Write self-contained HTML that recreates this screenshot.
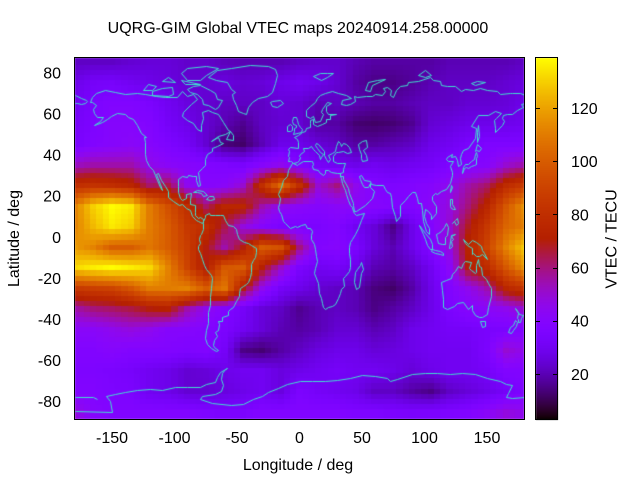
<!DOCTYPE html>
<html><head><meta charset="utf-8">
<style>
html,body{margin:0;padding:0;background:#fff;}
#wrap{position:relative;width:640px;height:480px;overflow:hidden;background:#fff;}
canvas{position:absolute;left:0;top:0;}
svg{position:absolute;left:0;top:0;}
text{font-family:"Liberation Sans",Arial,sans-serif;font-size:16px;fill:#000;}
</style></head>
<body><div id="wrap">
<canvas id="c" width="640" height="480"></canvas>
<svg width="640" height="480" xmlns="http://www.w3.org/2000/svg">
<text x="298" y="33" text-anchor="middle">UQRG-GIM Global VTEC maps 20240914.258.00000</text>
<rect x="74.5" y="57.5" width="450" height="362" fill="none" stroke="#000" stroke-width="1"/>
<rect x="535.5" y="57.5" width="22" height="362" fill="none" stroke="#000" stroke-width="1"/>
<g text-anchor="end">
<text x="61" y="78.3">80</text>
<text x="61" y="119.4">60</text>
<text x="61" y="160.6">40</text>
<text x="61" y="201.7">20</text>
<text x="61" y="242.8">0</text>
<text x="61" y="283.9">-20</text>
<text x="61" y="325">-40</text>
<text x="61" y="366.1">-60</text>
<text x="61" y="407.2">-80</text>
</g>
<g text-anchor="middle">
<text x="112" y="443">-150</text>
<text x="174.5" y="443">-100</text>
<text x="237" y="443">-50</text>
<text x="299.5" y="443">0</text>
<text x="362" y="443">50</text>
<text x="424.5" y="443">100</text>
<text x="487" y="443">150</text>
</g>
<text x="298" y="470" text-anchor="middle">Longitude / deg</text>
<text transform="translate(19,238.5) rotate(-90)" text-anchor="middle">Latitude / deg</text>
<text transform="translate(616.5,239) rotate(-90)" text-anchor="middle">VTEC / TECU</text>
<g>
<text x="571" y="379.8">20</text>
<text x="571" y="326.6">40</text>
<text x="571" y="273.5">60</text>
<text x="571" y="220.3">80</text>
<text x="571" y="167.2">100</text>
<text x="571" y="114">120</text>
</g>
<g stroke="#000" stroke-width="1">
<line x1="535.5" y1="374.5" x2="540" y2="374.5"/><line x1="553" y1="374.5" x2="557.5" y2="374.5"/>
<line x1="535.5" y1="321.5" x2="540" y2="321.5"/><line x1="553" y1="321.5" x2="557.5" y2="321.5"/>
<line x1="535.5" y1="268.5" x2="540" y2="268.5"/><line x1="553" y1="268.5" x2="557.5" y2="268.5"/>
<line x1="535.5" y1="214.5" x2="540" y2="214.5"/><line x1="553" y1="214.5" x2="557.5" y2="214.5"/>
<line x1="535.5" y1="161.5" x2="540" y2="161.5"/><line x1="553" y1="161.5" x2="557.5" y2="161.5"/>
<line x1="535.5" y1="108.5" x2="540" y2="108.5"/><line x1="553" y1="108.5" x2="557.5" y2="108.5"/>
</g>
</svg>
</div>
<script>
(function(){
var G=[
[22,22,22,24,25,25,23,23,21,20,20,20,22,23,23,20,18,18,18,18,20,20,20,20,22],
[28,32,33,30,28,26,24,24,26,24,25,28,30,28,24,18,15,15,17,20,22,22,22,24,26],
[30,35,38,38,35,30,26,24,22,22,22,25,24,20,22,20,18,18,20,22,22,24,24,25,28],
[32,36,40,40,38,32,28,24,20,16,22,24,24,18,18,13,12,13,16,24,26,28,28,28,30],
[34,38,40,42,40,36,32,24,14,12,20,28,28,25,22,18,18,20,22,28,30,34,36,36,36],
[52,55,55,55,46,42,40,38,36,34,40,45,38,32,30,28,30,28,30,32,36,38,40,50,55],
[80,82,80,75,62,65,45,40,42,50,80,105,80,50,60,45,38,36,38,40,45,55,62,78,86],
[112,130,139,135,110,95,80,62,75,75,55,45,42,40,42,42,40,38,38,42,48,60,75,98,115],
[112,125,135,130,110,100,85,80,65,48,40,35,35,35,38,30,25,15,28,38,50,68,85,103,110],
[118,112,100,100,108,100,88,70,55,70,100,95,60,38,40,35,25,20,28,38,48,74,90,112,128],
[132,136,139,136,132,112,90,70,98,100,72,52,35,30,32,28,20,18,22,30,42,70,78,98,115],
[85,88,90,98,110,110,112,100,108,70,45,32,28,24,22,20,14,12,18,28,38,45,55,75,82],
[55,60,62,65,70,72,55,45,38,32,25,22,16,20,22,20,15,18,22,28,35,40,42,45,50],
[42,42,45,48,45,40,40,38,35,30,25,20,18,20,24,24,20,22,28,30,32,32,34,35,38],
[38,38,40,38,38,38,36,38,32,15,13,18,22,26,28,28,25,26,28,30,30,30,35,50,45],
[36,36,35,33,30,28,24,25,28,30,30,26,28,30,32,30,30,28,25,28,30,30,32,38,38],
[38,38,36,35,30,28,24,24,26,28,30,26,35,32,30,28,22,22,18,15,22,25,28,32,36],
[48,40,38,38,38,38,38,36,35,35,38,38,38,38,38,36,36,35,34,35,36,38,42,48,45]];
function val(lon,lat){
 var fi=(85-lat)/10; fi=Math.max(0,Math.min(17,fi));
 var fj=(lon+180)/15; fj=Math.max(0,Math.min(24,fj));
 var i0=Math.floor(fi),j0=Math.floor(fj);
 var i1=Math.min(17,i0+1),j1=Math.min(24,j0+1);
 var di=fi-i0,dj=fj-j0;
 return G[i0][j0]*(1-di)*(1-dj)+G[i0][j1]*(1-di)*dj+G[i1][j0]*di*(1-dj)+G[i1][j1]*di*dj;
}
var VMIN=2.9,VMAX=139.1;
function col(v){
 var x=(v-VMIN)/(VMAX-VMIN); if(x<0)x=0; if(x>1)x=1;
 var r=Math.sqrt(x),g=x*x*x,b=Math.sin(2*Math.PI*x); if(b<0)b=0;
 return 'rgb('+Math.round(r*255)+','+Math.round(g*255)+','+Math.round(b*255)+')';
}
function X(lon){return 299.5+1.25*lon;}
function Y(lat){return 237-2.056*lat;}
var c=document.getElementById('c'),ctx=c.getContext('2d');
ctx.save();
ctx.beginPath();ctx.rect(75,58,449,361);ctx.clip();
for(var lon=-180;lon<=180;lon+=5){
 var x0=Math.round(X(lon-2.5)),x1=Math.round(X(lon+2.5));
 for(var lat=90;lat>=-90;lat-=2.5){
  var y0=Math.round(Y(lat+1.25)),y1=Math.round(Y(lat-1.25));
  ctx.fillStyle=col(val(lon,lat));
  ctx.fillRect(x0,y0,x1-x0,y1-y0);
 }
}
var C=[
[-166,68,-163,70,-156,71.3,-148,70.3,-140,69.6,-130,70,-124,69.5,-115,68.5,-108,68,-98,68,-94,71,-90,68.5,-85,69.5,-82,67,-87,64.5,-93,61,-94,58.7,-90,57,-85,55.3,-82,52.5,-79,51.5,-79,54.5,-77,58,-78,61,-73,62,-70,61,-65,60,-61,56,-57,52,-56,51.5,-60,50,-65,49,-71,46.8,-65,48.5,-64,46,-61,45.5,-66,44.5,-70,43.5,-70,41.7,-74,40.5,-76,38,-76,35,-78,33.8,-81,31.5,-80.5,28,-80,25.5,-81,25,-82.5,27.5,-83,29.5,-85,29.8,-89,30.3,-90,29,-94,29.7,-97,28,-97.5,25,-97.5,22,-96,19,-94,18.2,-91,18.8,-90.5,21,-87,21.5,-88,18,-88,16,-84,15.8,-83.5,12,-83.5,10.5,-81.5,9,-79.5,9.5,-77.5,8.7,-77.3,8,-78,7,-80,7.5,-81,7.7,-83,8.5,-85.7,10,-87.5,13,-91,14,-94,16,-96.5,15.7,-101,17.5,-105,19.5,-105.5,22.5,-108,25,-111,27.5,-113,31.3,-114.5,30.5,-112,26,-110,23,-112,24.5,-114,27.5,-115.5,30,-117,32.5,-120.5,34.5,-122.5,37.5,-124,40.5,-124,46,-124.5,48.5,-123,48.5,-127,50.5,-130,54.5,-133,57.5,-137,58.5,-140,59.8,-146,60.5,-151,59,-154,57.5,-158,56,-162,55,-164.5,54.5,-160,56.5,-157.5,58.5,-162,58.5,-164.5,60.5,-165,62.5,-163,64,-166,65.5,-168,65.6,-166,68],
[-73,78,-66,81,-55,82.2,-40,83.5,-25,83,-20,81.5,-18,79,-20,75,-22,70.5,-26,68.5,-33,67.5,-38,65.5,-41,63,-43,60,-45,60.5,-49,61.5,-51,64,-53,67,-54,69.5,-52,70.5,-55,72,-58,75.5,-67,76.5,-73,78],
[-80,73.7,-72,71.5,-68,70,-66,67,-62,66.5,-65,63,-68,62.5,-73,64.3,-77,64.5,-78,67,-82,69.5,-88,70.5,-90,72,-85,73.5,-80,73.7],
[-118,69,-105,68.8,-101,69.5,-102,72.8,-110,72.5,-118,71,-118,69],
[-90,76.5,-80,76.2,-75,79,-65,82,-75,83,-90,82,-95,80,-90,76.5],
[-125,71.5,-121,74.3,-115,73.3,-118,71.5,-125,71.5],
[-95,76.5,-80,74.5,-92,74.5,-95,76.5],
[-110,76,-100,75.5,-105,78,-110,76],
[-24,65.5,-22,66.3,-16,66.5,-13.5,65,-18,63.4,-22,63.8,-24,65.5],
[-59,47.5,-56,51.5,-53,49.5,-53,47,-59,47.5],
[-9,43,-8,44,-1.5,43.5,-1,46,-2,47.5,-4.5,48.5,-1.5,49.5,2,51,4,51.5,5,53,8,53.5,8.5,55.5,8,57,10.5,57.5,10.5,55,12,54.3,14,54,18,54.8,21,56,21.5,57.5,24,57.5,24,59.3,29,60,23,60,21.5,61.5,21.5,63.5,25,65,22,65.8,18,62.5,17,61,19,60,16,56.5,12.5,56,11,59,8,58,5.5,58.7,5,62,8,63.5,12,65.5,14,67.5,16,69,20,70,26,71,31,70,37,69,41,67.5,34,66.5,33,64.5,37,64,40,64.5,44,66,43.5,68.5,46,68,53,68.5,58,68.8,60,69.5,66,69,68.5,71,67,72.5,70,73,73,71.5,72,69,75,68,77,71.5,80,73.5,86,74,87,75.2,95,76,104,77.7,107,76.5,112,76,113.5,74,118,73.5,124,73.5,129,71,132,71.8,139,71.5,144,72.5,150,71.5,158,70.8,160,69.7,168,69.8,170,70,176,69.8,180,69,180,65,177,64.5,179,63,174,61.8,170,60,166,60,163,59.5,162,58,163.5,56.5,162,54.5,156.7,51,156,53,155.5,57,157,58,161,60.5,156,61.5,151,59.2,143,59.3,137,54,141,53,140,48,135,43.5,131,42.5,129.5,40.5,128,38.5,129.5,35.5,126.5,34.5,126,37.5,124.7,39.5,121.5,39,122,40.5,118,39,117.5,38,119,37,122.5,37,120.5,34.5,122,31.5,122,30,120,26.5,117,23.5,113,22.2,110,21,108,21.5,106,20,106,18,109,15,109,11.5,105,8.6,105,10.5,102.5,12.5,100.5,13.5,99.2,10,101,6.8,103.5,4.5,103.5,1.5,101,2.8,98.5,8,98.2,13,97.5,16.5,94.5,16.5,94,19,92,22,90,22,86.5,20,84,18,80.3,15.5,80,10,77.5,8,76,10,74,14.5,73,19.5,72.5,21.5,70,22,68.5,23.5,66.5,25.3,61.5,25.2,57,25.8,56.3,27.1,51.5,27.8,48.8,30.1,47.9,29.9,48.5,28,50,26,51.5,24.5,54.5,24.2,56.4,26.4,56.5,24.5,59.8,22.5,57.8,19,55.5,17.5,52,15.8,45,12.8,43.3,12.7,42.7,15.7,42.5,16.5,39.3,21.5,38.5,24,35,28,34.5,29.5,32.5,29.9,32.3,31.2,34.5,31.5,35,33,36,35.8,34,36.2,30,36.2,27,37,26.5,39.5,29,41.2,31,41.2,35,42,38,41,41.5,41.5,39.5,44,37.5,45.2,35,45.5,33.5,44.5,32.5,45.5,30.5,46.5,29,44.5,28,42,26,40.8,23,40,24,38,22.5,36.5,21.5,38,19.5,40,19.5,42,15,45.2,13.5,45.7,12.3,44.8,13.8,43.3,16,41.5,18.5,40.2,17,39,16,38,15.7,40,12.3,41.8,10.5,43,8.8,44.4,6.5,43.1,3,43.3,3.2,41.9,0.5,40.6,-0.3,39.5,0.2,38.7,-0.7,37.6,-2,36.7,-5.5,36,-6.5,37,-7.5,37.2,-9,37,-8.8,38.7,-9.5,39.5,-8.8,42,-9,43],
[-180,68.9,-175,67.5,-171,66.5,-170,66,-172,65,-175,64.5,-178,65,-180,65],
[47,45,50,46.5,53,47,54,44,51,42.5,53,40,54,37.3,50,37,49,38.5,49.5,40.5,47.5,43,47,45],
[-5,50,1.5,51,1.7,52.7,0,53.5,-1.5,55,-2,57,-3,58.6,-5,58.6,-6,56.5,-5,55,-3,54.5,-3,53.4,-4.5,53,-4.5,51.7,-5,50],
[-6,52.2,-6,54,-8,55.2,-10,54,-10,51.7,-8,51.6,-6,52.2],
[11,78.5,16,80,22,80,27,80,22,78,17,76.5,11,78.5],
[52,71.5,55,75.5,62,76.5,68,77,58,74,56,71,52,71.5],
[95,79,100,81,105,79,100,78,95,79],
[137,75,142,76,148,75.5,140,74,137,75],
[130,31.2,131.5,33.5,133,34,135,33.5,136.8,34.5,139.5,34.9,140.8,35.7,141,38.3,142,39.5,141.5,41.4,140,40.5,139.5,38,137,37,135,35.6,132.5,35.4,130.8,34,130,31.2],
[140,42,141.5,42.5,143.5,42,145.5,43.3,142,45.4,140,42],
[142,46,143.5,49,142.5,54.3,142,51,142,46],
[120.2,22.5,121.5,25.2,121.9,24.5,120.7,22,120.2,22.5],
[95.3,5.6,98,4,100.5,2,104,-1,106,-3.5,105.8,-5.8,104.5,-5.8,102,-4,100,-1,98.5,1.7,95.3,5.6],
[109,1.5,110,-1,111,-3,114,-3.5,116.5,-3.5,116,0,118,1,119,5,117,7,115.5,5,113,3,111,1.8,109,1.5],
[105.3,-6.8,108,-7.8,112,-8.3,114.5,-8.7,114.5,-7.8,112.5,-6.8,108.5,-6.4,106,-5.9,105.3,-6.8],
[119.5,-5.5,120.5,-2,121,1,124.5,1.5,121,0.5,123,-1,121,-2,122,-4.5,120.5,-5.5,119.5,-5.5],
[131,-1,135,-3.3,138,-1.7,141,-2.6,145,-4.3,146,-6.5,147.5,-8,150,-10.5,146,-8.5,143.5,-9,141,-9,139,-8,138,-8.3,137.8,-5.3,134,-3.8,132,-2.8,131,-1],
[120.5,18.5,122.2,18.5,122,16,124,13.8,122.5,13.5,121,14.3,120,15,120.5,18.5],
[122,7,124,8.5,126,9.3,126.5,7,125.5,6,123.8,7.7,122,7],
[113.5,-22,114,-26,115,-30,115,-34,118,-35,123.5,-33.8,126,-32.3,131,-31.5,135,-34.8,137.7,-33,137.8,-35.5,140,-37.8,143.5,-38.8,146,-39,150,-37.5,151,-34,153.5,-28.5,153,-25,150.8,-22.5,149,-20.5,146,-18.5,145.3,-14.8,143.5,-14,142.5,-10.7,141.5,-13.5,141.5,-17,140,-17.5,137.5,-16,135.5,-15,136.8,-12.2,132.5,-11.5,130.5,-12.5,129,-15,126.5,-14,124,-16.5,122.2,-18,121,-19.7,117,-20.7,113.5,-22],
[144.6,-40.7,148.3,-40.9,148,-43.2,146,-43.6,144.6,-40.7],
[172.7,-34.5,174.5,-36.5,175.5,-37.5,178.5,-37.7,177,-39.5,176,-41.5,174.7,-41.3,175,-40,173.8,-39.2,174.5,-37,172.7,-34.5],
[172.7,-40.5,174.3,-41.5,173,-43.5,171,-45,169,-46.6,166.5,-46,168,-44,170.5,-43,172.7,-40.5],
[49.3,-12,50.5,-15.5,49.5,-17.5,47.5,-24.5,45,-25.5,43.5,-22,44,-17,46,-15.7,48,-13.5,49.3,-12],
[-5.9,35.8,-9.5,32.5,-9.8,29.5,-13,27.6,-15,24.5,-17,21,-16,19,-16.5,16,-17.2,14.7,-16.7,12.5,-15,11,-13,8,-11.5,6.9,-7.5,4.4,-4,5.2,-2,4.7,1,6,4.5,6.3,6,4.3,8.5,4.5,9.7,3,9.5,1,9,-1,11.5,-3.5,12.2,-6,13.3,-9,13.6,-11.5,12,-15,11.8,-17.5,14.5,-22.5,15.2,-27,17,-29.5,18.3,-32,18.5,-34.2,20,-34.8,22.5,-34,26,-33.7,28.5,-32.5,31,-29.5,32.5,-27,32.8,-25.5,35.5,-24,35,-20,36.5,-19,39.5,-16.5,40.5,-14.5,40.5,-10.5,39.3,-8,39.3,-5,40.5,-2.5,42,-1,44,1.5,47,4.5,49.5,8.5,51.2,11.8,48.5,11.3,45,10.5,43.5,11.5,43,12.8,42,14.5,40,15.8,38.5,18,37.2,21,36.5,23,35.5,24,34,26.5,33,28.5,32.5,29.9,32.3,31.2,30,31.3,25,31.8,23,32.7,20,32.5,20,31,19,30.3,15.5,31.5,15,32.5,11,33.3,10.3,34.5,11,35.5,10.3,37.2,8.8,36.9,3,36.8,-1,35.5,-2.2,35.2,-5.5,36,-5.9,35.8],
[-77.3,8,-76,9.5,-75.5,10.7,-72.5,11.8,-71.5,10.5,-68,10.5,-64,10.6,-61.5,10.5,-60,8.5,-57.5,6,-53,5.5,-51,4,-50,1.5,-48.5,-1,-44.5,-2.5,-41,-3,-38.5,-3.8,-35.2,-5.5,-34.8,-7.5,-35.3,-9.5,-37,-11,-38.5,-13,-39,-17,-39.7,-19.5,-41,-22,-43,-23,-45,-23.7,-47.5,-25,-48.5,-27,-48.7,-28.5,-50.7,-31,-52.5,-33,-53.5,-34,-56,-34.8,-57.5,-36,-57.5,-38,-62,-39,-62.3,-41,-65,-41,-64.5,-42.5,-65.3,-45,-67.5,-46.3,-66,-48,-68.5,-50.3,-69,-52.3,-68.5,-53.5,-65.5,-55,-67,-55.5,-71,-54,-74,-52,-75.5,-49,-74.5,-45,-73.5,-42,-73.5,-39,-73.3,-36.5,-71.5,-33,-71.5,-29,-70.5,-25,-70.3,-20,-70.5,-18.3,-75,-15.5,-76.5,-13.5,-78,-10.5,-79.5,-8,-81,-6,-81.2,-4.3,-80,-3,-80.5,-1,-80,1,-79,1.7,-77.5,4,-77.3,7,-77.3,8],
[-85,21.8,-82,23.1,-77.5,22.2,-74.2,20.2,-77.5,19.9,-78.5,21.5,-82,22,-85,21.8],
[-74.5,18.4,-72.8,19.9,-69.5,19.7,-68.5,18.5,-71.5,17.8,-74.5,18.4],
[-180,-84.7,-150,-85.3,-152,-80,-155,-77.5,-148,-76.5,-140,-75.5,-130,-74.5,-120,-73.8,-110,-74.5,-100,-73,-90,-72.8,-80,-73.2,-75,-71.5,-68,-70.5,-66,-68,-64,-65.5,-58,-63.5,-60,-64,-62,-66,-63,-69,-61,-72,-63,-75,-68,-76.5,-78,-77.5,-80,-79,-70,-80.5,-55,-81.5,-45,-81,-37,-79,-30,-77.5,-25,-75.5,-17,-73.5,-10,-71.5,0,-70,10,-70,20,-69.8,30,-69.5,40,-68.5,50,-67,60,-67.5,70,-68.5,72,-70,78,-69,90,-66.5,100,-66,110,-66,120,-66.5,130,-66.2,140,-66.8,150,-68.5,160,-69.8,165,-71.5,170,-72,167,-76,165,-78,170,-78.5,180,-78],
[-180,-78,-165,-78,-162,-79]
];
ctx.strokeStyle='#40e0d0';ctx.lineWidth=1;
for(var k=0;k<C.length;k++){
 var p=C[k];ctx.beginPath();
 for(var m=0;m<p.length;m+=2){
  var px=Math.round(X(p[m]))+0.5,py=Math.round(Y(p[m+1]))+0.5;
  if(m==0)ctx.moveTo(px,py);else ctx.lineTo(px,py);
 }
 ctx.stroke();
}
ctx.restore();
for(var y=58;y<420;y++){
 var v=VMAX-(y+0.5-57.5)/362*(VMAX-VMIN);
 ctx.fillStyle=col(v);
 ctx.fillRect(536,y,22,1);
}
})();
</script>
</body></html>
